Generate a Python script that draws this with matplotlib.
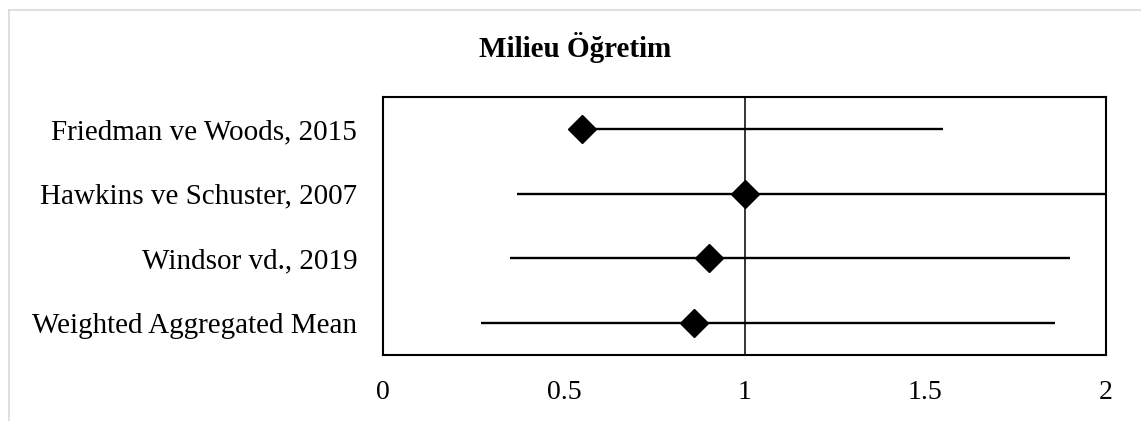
import matplotlib
matplotlib.use("Agg")
import matplotlib.pyplot as plt
from matplotlib.lines import Line2D

# Forest plot data: point estimate with confidence interval per study
studies = [
    "Friedman ve Woods, 2015",
    "Hawkins ve Schuster, 2007",
    "Windsor vd., 2019",
    "Weighted Aggregated Mean",
]
effect = [0.55, 1.00, 0.90, 0.86]
ci_lower = [0.54, 0.37, 0.35, 0.27]
ci_upper = [1.55, 2.00, 1.90, 1.86]
x_ticks = [0, 0.5, 1, 1.5, 2]
x_tick_labels = ["0", "0.5", "1", "1.5", "2"]
title = "Milieu Öğretim"

plt.rcParams["font.family"] = ["Liberation Serif", "DejaVu Serif"]

W, H = 1141, 421
fig = plt.figure(figsize=(W / 100, H / 100), dpi=100)
ax = fig.add_axes([383.3 / W, 1 - 355.3 / H, (1106 - 383.3) / W, (355.3 - 96.7) / H])

rows = list(range(1, len(studies) + 1))
ax.hlines(rows, ci_lower, ci_upper, color="black", linewidth=1.7, zorder=2)
ax.plot(effect, rows, linestyle="none", marker="D", markersize=13.8,
        color="black", zorder=3)
ax.axvline(1, color="black", linewidth=1.1, zorder=1)

ax.set_xlim(0, 2)
ax.set_ylim(len(studies) + 0.5, 0.5)
ax.set_xticks(x_ticks)
ax.set_xticklabels(x_tick_labels, fontsize=20)
ax.set_yticks(rows)
ax.set_yticklabels(studies, fontsize=21)
ax.tick_params(axis="both", length=0)
ax.tick_params(axis="x", pad=17.5)
ax.tick_params(axis="y", pad=18.7)
for s in ax.spines.values():
    s.set_linewidth(1.5)
    s.set_color("black")

fig.text(575 / W, 1 - 57 / H, title, ha="center", va="baseline",
         fontsize=21, fontweight="bold")

# Light gray chart-area border (top and left edges)
fig.add_artist(Line2D([8.5 / W, 1], [1 - 9.5 / H, 1 - 9.5 / H],
                      transform=fig.transFigure, color="#d9d9d9", linewidth=1.2))
fig.add_artist(Line2D([8.5 / W, 8.5 / W], [0, 1 - 9.5 / H],
                      transform=fig.transFigure, color="#d9d9d9", linewidth=1.2))

fig.savefig("out.png", dpi=100)
